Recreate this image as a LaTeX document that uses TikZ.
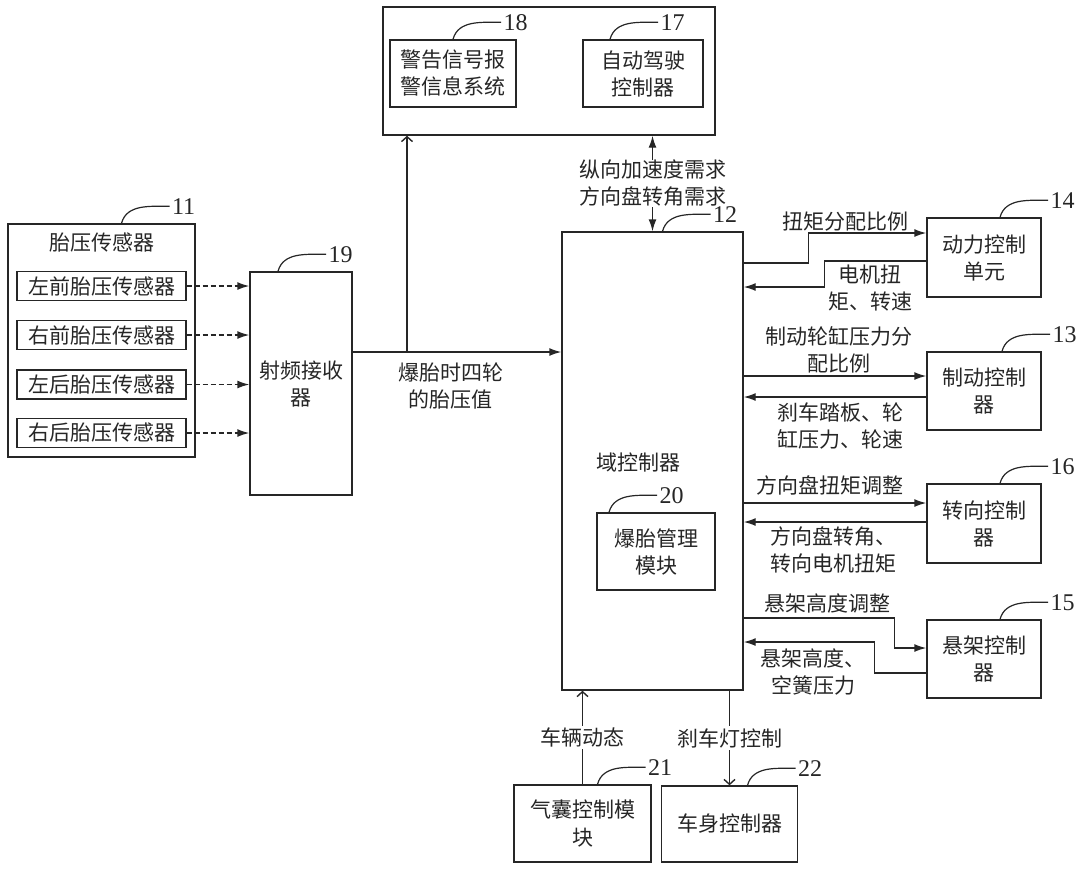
\documentclass[tikz,border=0pt]{standalone}
\usepackage{fontspec}
\setmainfont{Liberation Serif}
\newfontfamily\cjk{Noto Sans CJK SC}
\usetikzlibrary{arrows.meta,positioning}
\tikzset{
  blk/.style={draw, line width=0.7pt},
  num/.style={font=\rmfamily\fontsize{12pt}{12pt}\selectfont, inner sep=1pt},
  arr/.style={line width=0.7pt, -{Latex[length=6pt,width=4pt]}},
  oarr/.style={line width=0.7pt, -{Straight Barb[length=2.5pt,width=5.5pt]}},
  darr/.style={line width=0.7pt, dash pattern=on 2.5pt off 1.5pt, -{Latex[length=6pt,width=4pt]}},
  lead/.style={line width=0.6pt}
}
\begin{document}
\begin{tikzpicture}[x=0.5pt,y=-0.5pt,black!85,
  every node/.style={align=center, inner sep=1pt},
  font=\cjk\fontsize{10.5pt}{13.5pt}\selectfont]
\useasboundingbox (0,0) rectangle (1080,869);
% top group
\node[blk, minimum width=166pt, minimum height=64pt] (top) at (549,71) {};
\node[blk, minimum width=63pt, minimum height=33.5pt] (warn) at (453,73.5) {警告信号报\\警信息系统};
\node[blk, minimum width=60pt, minimum height=33.5pt] (adc) at (643,73.5) {自动驾驶\\控制器};
% tyre pressure sensors
\node[blk, minimum width=93.5pt, minimum height=116.5pt] (tps) at (101.5,340.5) {};
\node (tpstitle) at (102,242) {胎压传感器};
\foreach \i/\y/\w in {1/286/左前, 2/335/右前, 3/384.5/左后, 4/433/右后}
  \node[blk, minimum width=84.5pt, minimum height=14.5pt] (s\i) at (101.5,\y) {\w 胎压传感器};
\node[blk, minimum width=51pt, minimum height=111.5pt] (rf) at (301,383.5) {射频接收\\器};
% domain controller
\node[blk, minimum width=90.5pt, minimum height=229pt] (dc) at (652.5,461) {};
\node (dctitle) at (638,462) {域控制器};
\node[blk, minimum width=59pt, minimum height=38.5pt] (tbm) at (656,551.5) {爆胎管理\\模块};
% right side controllers
\node[blk, minimum width=57pt, minimum height=39.5pt] (pcu) at (984,257.5) {动力控制\\单元};
\node[blk, minimum width=57pt, minimum height=39pt] (bc) at (984,391) {制动控制\\器};
\node[blk, minimum width=57pt, minimum height=39.5pt] (sc) at (984,523.5) {转向控制\\器};
\node[blk, minimum width=57pt, minimum height=39pt] (su) at (984,659) {悬架控制\\器};
% bottom
\node[blk, minimum width=68.5pt, minimum height=38.5pt] (ab) at (582.5,823.5) {气囊控制模\\块};
\node[blk, minimum width=68pt, minimum height=38pt] (bcm) at (729.5,824) {车身控制器};
% sensors to receiver
\foreach \i in {1,...,4}
  \draw[darr] (s\i.east) -- (s\i -| rf.west);
\coordinate (split) at (407,352);
\draw[arr] (rf.east |- split) -- (dc.west |- split) node[pos=0.47, below=4pt] (tpv) {爆胎时四轮\\的胎压值};
\draw[oarr] (split) -- (split |- top.south);
\draw[line width=0.7pt, {Latex[length=6pt,width=4pt]}-{Latex[length=6pt,width=4pt]}]
  (dc.north) -- (dc.north |- top.south) node[midway, fill=white, inner sep=0pt] (dem) {纵向加速度需求\\方向盘转角需求};
% power
\draw[arr] (dc.east |- 0,263) -- ++(65,0) |- (pcu.west |- 0,233);
\draw[arr] (pcu.west |- 0,261) -- ++(-102,0) |- (dc.east |- 0,287);
\node (l1) at (845,222) {扭矩分配比例};
\node (l2) at (870,288) {电机扭\\矩、转速};
% brake
\draw[arr] (dc.east |- 0,376) -- (bc.west |- 0,376);
\draw[arr] (bc.west |- 0,397) -- (dc.east |- 0,397);
\node (l3) at (839,350) {制动轮缸压力分\\配比例};
\node[align=left] (l4) at (840,426) {刹车踏板、轮\\缸压力、轮速};
% steering
\draw[arr] (dc.east |- 0,503) -- (sc.west |- 0,503);
\draw[arr] (sc.west |- 0,522) -- (dc.east |- 0,522);
\node (l5) at (830,485) {方向盘扭矩调整};
\node[align=left] (l6) at (833,550) {方向盘转角、\\转向电机扭矩};
% suspension
\draw[arr] (dc.east |- 0,618) -- ++(151,0) |- (su.west |- 0,648);
\draw[arr] (su.west |- 0,673) -- ++(-52,0) |- (dc.east |- 0,642);
\node (l7) at (827,603) {悬架高度调整};
\node (l8) at (813,672) {悬架高度、\\空簧压力};
% bottom links
\draw[oarr] (ab.north) -- (ab.north |- dc.south) node[midway, fill=white] (veh) {车辆动态};
\draw[oarr] (bcm.north |- dc.south) -- (bcm.north) node[midway, fill=white] (blc) {刹车灯控制};
% reference numbers
\foreach \n/\s/\l in {tps/10/11, dc/5/12, bc/9/13, pcu/8/14, su/8/15, sc/8/16,
                      adc/-16.5/17, warn/0/18, rf/-11.5/19, tbm/-23.5/20, ab/7.5/21, bcm/9/22}
  \draw[lead] ([xshift=\s pt]\n.north) to[out=75,in=180] ++(24pt,8.5pt) node[num, right] (n\l) {\l};
\end{tikzpicture}
\end{document}
